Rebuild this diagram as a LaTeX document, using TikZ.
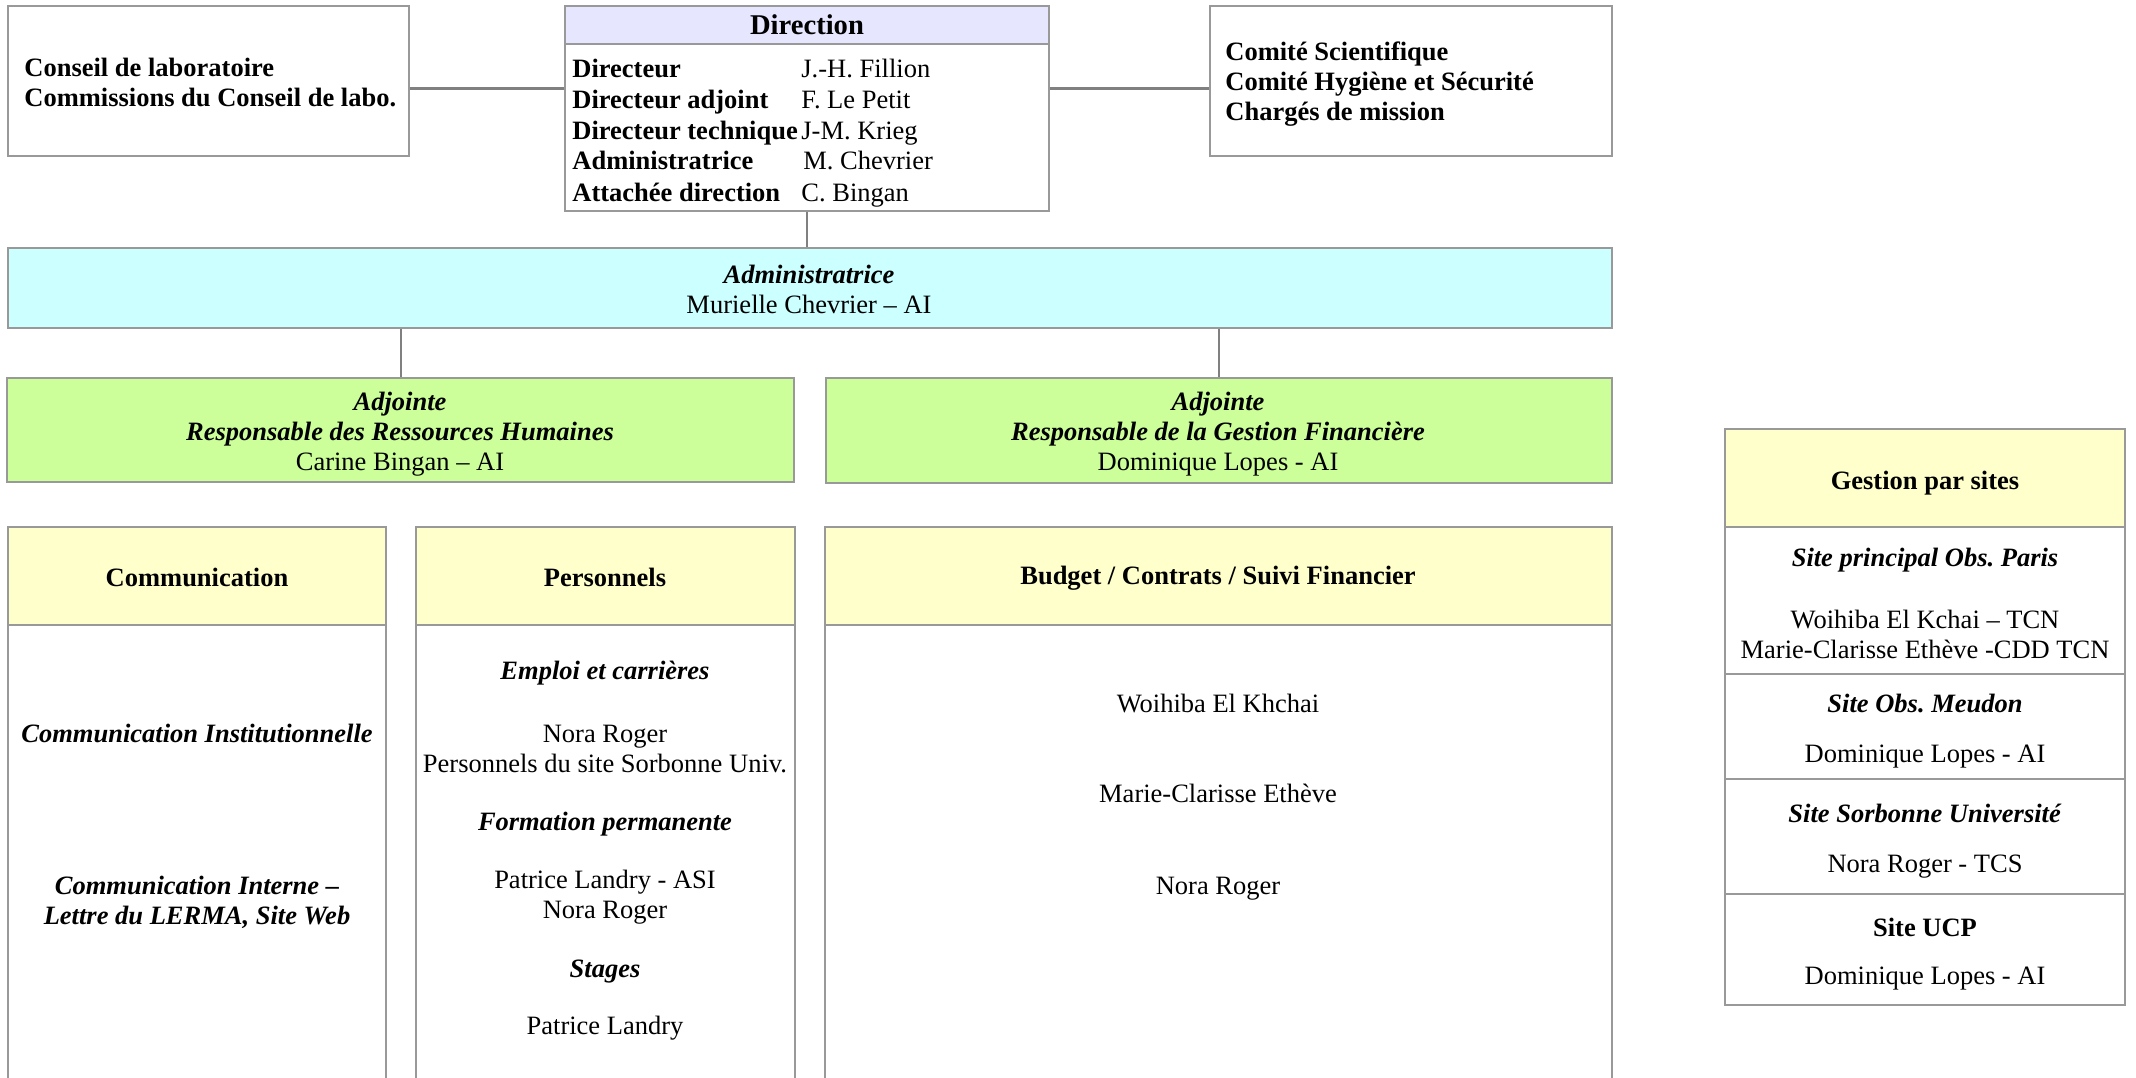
\documentclass[tikz,border=0pt]{standalone}
\usepackage{fontspec}
\setmainfont{Liberation Serif}
\usepackage{tikz}
\usetikzlibrary{fit}
\definecolor{headv}{HTML}{E6E6FF}
\definecolor{headc}{HTML}{CCFFFF}
\definecolor{headg}{HTML}{CCFF99}
\definecolor{heady}{HTML}{FFFFCC}
\tikzset{
    box/.style = {rectangle, draw=black!40, line width=0.65pt, inner sep=0pt},
    boxv/.style = {box, fill=headv},
    boxc/.style = {box, fill=headc},
    boxg/.style = {box, fill=headg},
    boxy/.style = {box, fill=heady},
    txt/.style = {inner sep=0pt, align=center, text height=0.95em, text depth=0pt},
    txtm/.style = {inner sep=0pt, align=center},
    txtl/.style = {txt, anchor=west},
    txtml/.style = {txtm, align=left, anchor=west},
    link/.style = {draw=black!50, line width=1pt},
    linkh/.style = {link, line width=1.5pt}
}
\newcommand{\BI}[1]{\textbf{\textit{#1}}}
\frenchspacing

\begin{document}
\begin{tikzpicture}[x=0.5pt,y=-0.5pt,font=\fontsize{13.25}{15}\selectfont]
\useasboundingbox (0,0) rectangle (2136,1077);
% top row
\node[box, fit={(8,6) (409,156)}] (conseil) {};
\node[txtml] at (24,82) (conseilt) {\textbf{Conseil de laboratoire}\\\textbf{Commissions du Conseil de labo.}};
\node[boxv, fit={(565,6) (1049,44)}] (dirhead) {};
\node[txt, font=\fontsize{14.3}{16}\selectfont\bfseries] at (dirhead.center) (dirt) {Direction};
\node[box, fit={(565,44) (1049,211)}] (dirbody) {};
\node[txtl] at (572,68) (r1) {\textbf{Directeur}};
\node[txtl] at (801,68) (n1) {J.-H. Fillion};
\node[txtl] at (572,99) (r2) {\textbf{Directeur adjoint}};
\node[txtl] at (801,99) (n2) {F. Le Petit};
\node[txtl] at (572,130) (r3) {\textbf{Directeur technique}};
\node[txtl] at (801,130) (n3) {J-M. Krieg};
\node[txtl] at (572,160) (r4) {\textbf{Administratrice}};
\node[txtl] at (803,160) (n4) {M. Chevrier};
\node[txtl] at (572,192) (r5) {\textbf{Attachée direction}};
\node[txtl] at (801,192) (n5) {C. Bingan};
\node[box, fit={(1210,6) (1612,156)}] (comite) {};
\node[txtml] at (1225,84) (comitet) {\textbf{Comité Scientifique}\\\textbf{Comité Hygiène et Sécurité}\\\textbf{Chargés de mission}};
%
\node[boxc, fit={(8,248) (1612,328)}] (admin) {};
\node[txtm] at (809,289) (admint) {\BI{Administratrice}\\Murielle Chevrier – AI};
\node[boxg, fit={(7,378) (794,482)}] (rh) {};
\node[txtm] at (400,434) (rht) {\BI{Adjointe}\\\BI{Responsable des Ressources Humaines}\\Carine Bingan – AI};
\node[boxg, fit={(826,378) (1612,483)}] (fin) {};
\node[txtm] at (1218,434) (fint) {\BI{Adjointe}\\\BI{Responsable de la Gestion Financière}\\Dominique Lopes - AI};
% columns
\node[boxy, fit={(8,527) (386,625)}] (comhead) {};
\node[txt] at (197,577) (comheadt) {\textbf{Communication}};
\node[box, fit={(8,625) (386,1090)}] (combody) {};
\node[txt] at (197,733) (com1) {\BI{Communication Institutionnelle}};
\node[txtm] at (197,902) (com2) {\BI{Communication Interne –}\\\BI{Lettre du LERMA, Site Web}};
\node[boxy, fit={(416,527) (795,625)}] (pershead) {};
\node[txt] at (605,577) (persheadt) {\textbf{Personnels}};
\node[box, fit={(416,625) (795,1090)}] (persbody) {};
\node[txt] at (605,670) (pers1) {\BI{Emploi et carrières}};
\node[txtm] at (605,749) (pers2) {Nora Roger\\Personnels du site Sorbonne Univ.};
\node[txt] at (605,821) (pers3) {\BI{Formation permanente}};
\node[txtm] at (605,897) (pers4) {Patrice Landry - ASI\\Nora Roger};
\node[txt] at (605,968) (pers5) {\BI{Stages}};
\node[txt] at (605,1025) (pers6) {Patrice Landry};
\node[boxy, fit={(825,527) (1612,625)}] (budhead) {};
\node[txt] at (1218,575) (budheadt) {\textbf{Budget / Contrats / Suivi Financier}};
\node[box, fit={(825,625) (1612,1090)}] (budbody) {};
\node[txt] at (1218,703) (bud1) {Woihiba El Khchai};
\node[txt] at (1218,793) (bud2) {Marie-Clarisse Ethève};
\node[txt] at (1218,885) (bud3) {Nora Roger};
% sites
\node[boxy, fit={(1725,429) (2125,527)}] (gesthead) {};
\node[txt] at (1925,480) (gestheadt) {\textbf{Gestion par sites}};
\node[box, fit={(1725,527) (2125,674)}] (gparis) {};
\node[txt] at (1925,557) (gp1) {\BI{Site principal Obs. Paris}};
\node[txtm] at (1925,634) (gp2) {Woihiba El Kchai – TCN\\Marie-Clarisse Ethève -CDD TCN};
\node[box, fit={(1725,674) (2125,779)}] (gmeudon) {};
\node[txt] at (1925,703) (gm1) {\BI{Site Obs. Meudon}};
\node[txt] at (1925,753) (gm2) {Dominique Lopes - AI};
\node[box, fit={(1725,779) (2125,894)}] (gsorb) {};
\node[txt] at (1925,813) (gs1) {\BI{Site Sorbonne Université}};
\node[txt] at (1925,863) (gs2) {Nora Roger - TCS};
\node[box, fit={(1725,894) (2125,1005)}] (gucp) {};
\node[txt] at (1925,927) (gu1) {\textbf{Site UCP}};
\node[txt] at (1925,975) (gu2) {Dominique Lopes - AI};
%
\coordinate (lk) at (0,88);
\draw[linkh] (conseil.east |- lk) -- (dirbody.west |- lk);
\draw[linkh] (dirbody.east |- lk) -- (comite.west |- lk);
\draw[link] (dirbody.south) -- (admin.north -| dirbody.south);
\draw[link] (rh.north |- admin.south) -- (rh.north);
\draw[link] (fin.north |- admin.south) -- (fin.north);
\end{tikzpicture}
\end{document}
